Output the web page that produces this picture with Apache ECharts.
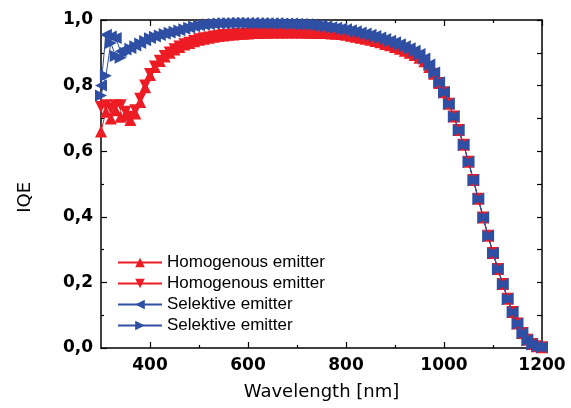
<!DOCTYPE html>
<html>
<head>
<meta charset="utf-8">
<script src="https://cdn.jsdelivr.net/npm/echarts@6/dist/echarts.min.js"></script>
<style>html,body{margin:0;padding:0;background:#fff}#c{width:571px;height:408px}</style>
</head>
<body>
<div id="c"></div>
<script>
const wavelengths = [300,310,320,330,340,350,360,370,380,390,400,410,420,430,440,450,460,470,480,490,500,510,520,530,540,550,560,570,580,590,600,610,620,630,640,650,660,670,680,690,700,710,720,730,740,750,760,770,780,790,800,810,820,830,840,850,860,870,880,890,900,910,920,930,940,950,960,970,980,990,1000,1010,1020,1030,1040,1050,1060,1070,1080,1090,1100,1110,1120,1130,1140,1150,1160,1170,1180,1190,1200];
const xLabels = [400,600,800,1000,1200];
const xMinor = [500,700,900,1100];

const homUp = [0.66,0.72,0.70,0.725,0.705,0.71,0.695,0.715,0.75,0.795,0.832,0.857,0.875,0.889,0.90,0.91,0.918,0.925,0.93,0.935,0.94,0.943,0.946,0.949,0.951,0.953,0.955,0.956,0.957,0.958,0.959,0.96,0.96,0.961,0.961,0.962,0.962,0.962,0.962,0.962,0.962,0.962,0.961,0.961,0.96,0.96,0.96,0.959,0.958,0.957,0.955,0.952,0.949,0.946,0.943,0.94,0.936,0.932,0.927,0.923,0.918,0.912,0.906,0.9,0.893,0.885,0.874,0.857,0.836,0.808,0.78,0.745,0.706,0.665,0.62,0.568,0.512,0.455,0.398,0.342,0.29,0.241,0.195,0.15,0.11,0.075,0.046,0.025,0.012,0.005,0.002];
const homDown = [0.735,0.74,0.73,0.74,0.74,0.72,0.705,0.725,0.76,0.80,0.835,0.858,0.876,0.89,0.901,0.911,0.919,0.926,0.931,0.936,0.941,0.944,0.947,0.95,0.952,0.954,0.955,0.956,0.957,0.958,0.959,0.96,0.96,0.961,0.961,0.962,0.962,0.962,0.962,0.962,0.962,0.962,0.961,0.961,0.96,0.96,0.96,0.959,0.958,0.957,0.955,0.952,0.949,0.946,0.943,0.94,0.936,0.932,0.927,0.923,0.918,0.912,0.906,0.9,0.893,0.885,0.874,0.857,0.836,0.808,0.78,0.745,0.706,0.665,0.62,0.568,0.512,0.455,0.398,0.342,0.29,0.241,0.195,0.15,0.11,0.075,0.046,0.025,0.012,0.005,0.002];
const selLeft = [0.80,0.955,0.95,0.945,0.905,0.91,0.915,0.922,0.93,0.938,0.945,0.95,0.954,0.958,0.962,0.965,0.969,0.973,0.977,0.981,0.984,0.986,0.988,0.989,0.99,0.99,0.991,0.991,0.991,0.991,0.991,0.991,0.99,0.99,0.99,0.99,0.99,0.989,0.989,0.989,0.988,0.988,0.987,0.986,0.985,0.983,0.981,0.978,0.976,0.974,0.972,0.969,0.966,0.962,0.959,0.955,0.951,0.947,0.942,0.937,0.932,0.926,0.92,0.914,0.906,0.896,0.883,0.864,0.84,0.81,0.78,0.745,0.706,0.665,0.62,0.568,0.512,0.455,0.398,0.342,0.29,0.241,0.195,0.15,0.11,0.075,0.046,0.025,0.012,0.005,0.002];
const selRight = [0.77,0.83,0.93,0.89,0.885,0.90,0.912,0.92,0.928,0.936,0.944,0.949,0.953,0.957,0.961,0.964,0.968,0.972,0.976,0.98,0.983,0.985,0.987,0.988,0.989,0.99,0.99,0.99,0.991,0.991,0.991,0.99,0.99,0.99,0.99,0.99,0.989,0.989,0.989,0.988,0.988,0.987,0.987,0.986,0.984,0.982,0.98,0.978,0.976,0.973,0.971,0.968,0.965,0.962,0.958,0.954,0.95,0.946,0.941,0.936,0.931,0.925,0.919,0.913,0.905,0.895,0.882,0.863,0.839,0.81,0.779,0.744,0.705,0.664,0.619,0.567,0.511,0.454,0.397,0.341,0.289,0.24,0.194,0.149,0.109,0.074,0.045,0.024,0.011,0.005,0.002];

const RED = '#ED1C24', BLUE = '#2E4FA3';
function pairs(v){ return wavelengths.map((w,i)=>[w, v[i]]); }

const chart = echarts.init(document.getElementById('c'), null, {renderer:'canvas'});
const axisLineStyle = {color:'#000', width:1.5};
const baseX = {type:'value', min:300, max:1200, splitLine:{show:false}};
function mk(name, data, color, rot){
  return {name, type:'line', data:pairs(data), symbol:'triangle', symbolSize:12, symbolRotate:rot,
    itemStyle:{color}, lineStyle:{color, width:1}, showSymbol:true, animation:false, z:color===BLUE?3:2};
}
chart.setOption({
  animation:false,
  grid:{left:101, right:29, top:20, bottom:60},
  graphic:[{type:'text', left:16, top:182, rotation:Math.PI/2,
    style:{text:'IQE', fontFamily:'DejaVu Sans', fontSize:18, fill:'#000'}}],
  legend:{
    orient:'vertical', left:117, top:254, padding:0, itemWidth:44, itemHeight:12, itemGap:4,
    textStyle:{fontFamily:'Liberation Sans', fontSize:17, color:'#000'},
    data:['Homogenous emitter','Homogenous emitter ','Selektive emitter','Selektive emitter ']
  },
  xAxis:[
    Object.assign({}, baseX, {position:'bottom',
      name:'Wavelength [nm]', nameLocation:'middle', nameGap:35,
      nameTextStyle:{fontFamily:'DejaVu Sans', fontSize:18, color:'#000'},
      axisLine:{show:true, lineStyle:axisLineStyle},
      axisTick:{show:true, inside:true, length:6, customValues:xLabels, lineStyle:{color:'#000', width:1.2}},
      axisLabel:{show:true, customValues:xLabels, margin:9, fontFamily:'DejaVu Sans', fontWeight:'bold', fontSize:17, color:'#000',
        formatter:v=>String(v)}}),
    Object.assign({}, baseX, {position:'bottom',
      axisLine:{show:false},
      axisTick:{show:true, inside:true, length:3, customValues:xMinor, lineStyle:{color:'#000', width:1.2}},
      axisLabel:{show:false}}),
    Object.assign({}, baseX, {position:'top',
      axisLine:{show:true, lineStyle:axisLineStyle},
      axisTick:{show:true, inside:true, length:6, customValues:xLabels, lineStyle:{color:'#000', width:1.2}},
      axisLabel:{show:false}}),
    Object.assign({}, baseX, {position:'top',
      axisLine:{show:false},
      axisTick:{show:true, inside:true, length:3, customValues:xMinor, lineStyle:{color:'#000', width:1.2}},
      axisLabel:{show:false}})
  ],
  yAxis:[
    {type:'value', min:0, max:1, interval:0.2, position:'left',
      splitLine:{show:false},
      axisLine:{show:true, lineStyle:axisLineStyle},
      axisTick:{show:true, inside:true, length:6, lineStyle:{color:'#000', width:1.2}},
      minorTick:{show:true, splitNumber:2, length:3, lineStyle:{color:'#000', width:1.2}},
      axisLabel:{margin:8, fontFamily:'DejaVu Sans', fontWeight:'bold', fontSize:17, color:'#000',
        formatter:v=>v.toFixed(1).replace('.', ',')}},
    {type:'value', min:0, max:1, interval:0.1, position:'right',
      splitLine:{show:false},
      axisLine:{show:true, lineStyle:axisLineStyle},
      axisTick:{show:true, inside:true, length:5, lineStyle:{color:'#000', width:1.2}},
      axisLabel:{show:false}}
  ],
  series:[
    mk('Homogenous emitter', homUp, RED, 0),
    mk('Homogenous emitter ', homDown, RED, 180),
    mk('Selektive emitter', selLeft, BLUE, 90),
    mk('Selektive emitter ', selRight, BLUE, -90)
  ]
});
</script>
</body>
</html>
